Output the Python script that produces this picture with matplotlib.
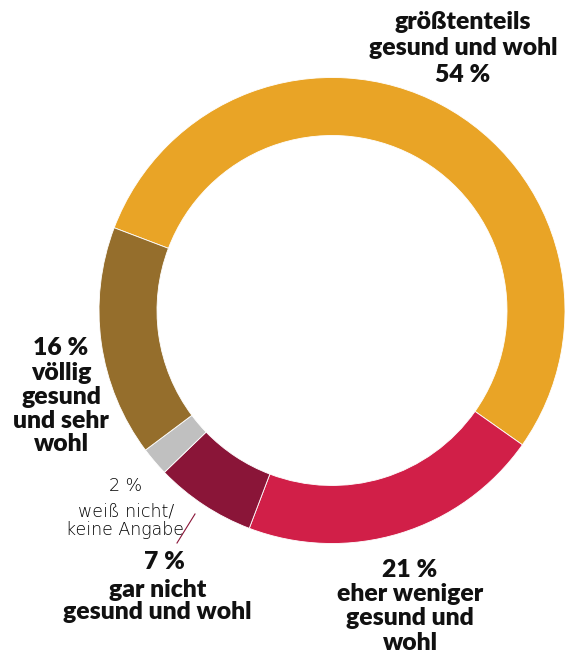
import matplotlib
matplotlib.use("Agg")
import matplotlib.pyplot as plt

# ---- data ----
categories = ["größtenteils gesund und wohl", "eher weniger gesund und wohl",
              "gar nicht gesund und wohl", "weiß nicht/keine Angabe",
              "völlig gesund und sehr wohl"]
values = [54, 21, 7, 2, 16]
colors = ["#E9A426", "#D11F48", "#8A1538", "#C0C0C0", "#956E2C"]

label_top = ["größtenteils", "gesund und wohl", "54 %"]
label_left = ["16 %", "völlig", "gesund", "und sehr", "wohl"]
label_right = ["21 %", "eher weniger", "gesund und", "wohl"]
label_seven = ["7 %", "gar nicht", "gesund und wohl"]
label_two = ["2 %", "weiß nicht/", "keine Angabe"]

W, H = 565, 654
fig = plt.figure(figsize=(W / 100, H / 100), dpi=100)
ax = fig.add_axes([0, 0, 1, 1])

def Y(p):
    return H - p

ax.pie(values, colors=colors, startangle=159.2, counterclock=False,
       radius=233, center=(332, Y(310.5)),
       wedgeprops=dict(width=58, edgecolor="white", linewidth=0.6))

ax.set_xlim(0, W)
ax.set_ylim(0, H)
ax.set_aspect("equal")
ax.axis("off")

BOLD = dict(family=["Lato", "DejaVu Sans"], weight="heavy", fontsize=17.8,
            color="#111111", ha="center", va="baseline")
LIGHT = dict(family=["DejaVu Sans"], weight="light", fontsize=12.5,
             color="#000000", ha="center", va="baseline")

def block(lines, xs, baselines, style):
    for t, x, b in zip(lines, xs, baselines):
        ax.text(x, Y(b), t, **style)

block(label_top, [463] * 3, [29, 55, 82], BOLD)
block(label_left, [61] * 5, [355, 380, 404, 428, 451], BOLD)
block(label_right, [410] * 4, [577, 601, 625, 650], BOLD)
block(label_seven, [164, 158, 157], [569, 597, 619], BOLD)
block(label_two, [126, 126, 125], [491, 517, 535], LIGHT)

ax.plot([177, 195], [Y(543), Y(514)], color="#8A1538", linewidth=0.8)

fig.savefig("out.png", dpi=100)
